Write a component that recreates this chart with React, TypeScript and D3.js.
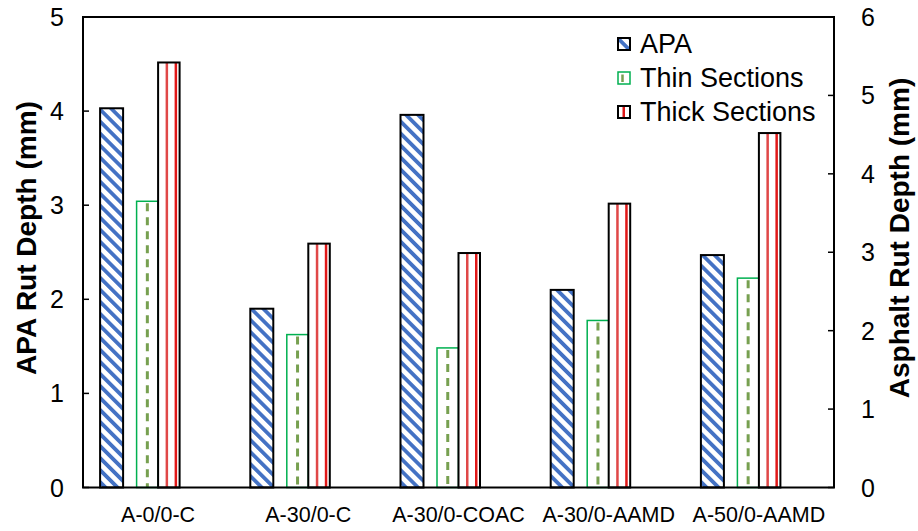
import React from "react";
import * as d3 from "d3";

const categories = ["A-0/0-C", "A-30/0-C", "A-30/0-COAC", "A-30/0-AAMD", "A-50/0-AAMD"];
const apaValues = [4.03, 1.9, 3.96, 2.1, 2.47];
const thinValues = [3.65, 1.95, 1.78, 2.13, 2.67];
const thickValues = [5.42, 3.11, 2.99, 3.62, 4.52];
const leftTicks = [0, 1, 2, 3, 4, 5];
const rightTicks = [0, 1, 2, 3, 4, 5, 6];
const legendItems = ["APA", "Thin Sections", "Thick Sections"];

const W = 918;
const H = 531;
const L = 83;
const R = 834;
const T = 17;
const B = 487.5;
const FONT = "'Liberation Sans', Arial, sans-serif";

export default function App() {
  const x = d3.scaleBand<string>().domain(categories).range([L, R]);
  const yL = d3.scaleLinear().domain([0, 5]).range([B, T]);
  const yR = d3.scaleLinear().domain([0, 6]).range([B, T]);
  const cx = (c: string) => (x(c) as number) + x.bandwidth() / 2;

  const apaW = 23;
  const secW = 21.5;

  const thickBar = (x0: number, y0: number, key: string) => {
    const h = B - y0;
    return (
      <g key={key}>
        <rect x={x0} y={y0} width={secW} height={h} fill="#fff" />
        <rect x={x0 + 7.5} y={y0} width={2.5} height={h} fill="#E04848" />
        <rect x={x0 + 16.5} y={y0} width={2.5} height={h} fill="#E01818" />
        <rect x={x0} y={y0} width={secW} height={h} fill="none" stroke="#000" strokeWidth={2} />
      </g>
    );
  };

  const thinBar = (x0: number, y0: number, key: string) => {
    const h = B - y0;
    return (
      <g key={key}>
        <rect x={x0} y={y0} width={secW} height={h} fill="#fff" />
        <line
          x1={x0 + secW / 2}
          x2={x0 + secW / 2}
          y1={y0 + 2}
          y2={B}
          stroke="#77A050"
          strokeWidth={3}
          strokeDasharray="8 6"
        />
        <rect x={x0} y={y0} width={secW} height={h} fill="none" stroke="#00B050" strokeWidth={1.5} />
      </g>
    );
  };

  const titleY = 238;

  return (
    <svg
      width={W}
      height={H}
      style={{ position: "absolute", left: 0, top: 0, background: "#fff" }}
      fontFamily={FONT}
    >
      <defs>
        <pattern
          id="apaPat"
          patternUnits="userSpaceOnUse"
          width={8.5}
          height={8.5}
          patternTransform="rotate(-45)"
        >
          <rect width={8.5} height={8.5} fill="#fff" />
          <rect x={0} y={0} width={3.8} height={8.5} fill="#4472C4" />
        </pattern>
      </defs>
      <rect x={0} y={0} width={W} height={H} fill="#fff" />

      {categories.map((c, i) => {
        const c0 = cx(c);
        return (
          <g key={c}>
            <rect
              x={c0 - 58}
              y={yL(apaValues[i])}
              width={apaW}
              height={B - yL(apaValues[i])}
              fill="url(#apaPat)"
              stroke="#000"
              strokeWidth={2}
            />
            {thinBar(c0 - secW, yR(thinValues[i]), "thin" + i)}
            {thickBar(c0, yR(thickValues[i]), "thick" + i)}
          </g>
        );
      })}

      {/* frame */}
      <rect x={L} y={T} width={R - L} height={B - T} fill="none" stroke="#000" strokeWidth={2} />

      {/* left axis */}
      {leftTicks.map((t) => (
        <g key={"l" + t}>
          <line x1={L} x2={L + 6} y1={yL(t)} y2={yL(t)} stroke="#000" strokeWidth={1.5} />
          <text x={64} y={yL(t)} textAnchor="end" dominantBaseline="central" fontSize={25}>
            {t}
          </text>
        </g>
      ))}
      {/* right axis */}
      {rightTicks.map((t) => (
        <g key={"r" + t}>
          <line x1={R - 6} x2={R} y1={yR(t)} y2={yR(t)} stroke="#000" strokeWidth={1.5} />
          <text x={861} y={yR(t)} textAnchor="start" dominantBaseline="central" fontSize={25}>
            {t}
          </text>
        </g>
      ))}

      {/* x labels */}
      {categories.map((c) => (
        <text key={"x" + c} x={cx(c)} y={522} textAnchor="middle" fontSize={21.5}>
          {c}
        </text>
      ))}

      {/* axis titles */}
      <text
        transform={`translate(26,${titleY}) rotate(-90)`}
        textAnchor="middle"
        dominantBaseline="central"
        fontSize={28}
        fontWeight="bold"
      >
        APA Rut Depth (mm)
      </text>
      <text
        transform={`translate(899,${titleY}) rotate(-90)`}
        textAnchor="middle"
        dominantBaseline="central"
        fontSize={28}
        fontWeight="bold"
      >
        Asphalt Rut Depth (mm)
      </text>

      {/* legend */}
      {legendItems.map((name, i) => {
        const yc = 44 + i * 34;
        return (
          <g key={name}>
            {i === 0 && (
              <rect x={618} y={yc - 6} width={12} height={12} fill="url(#apaPat)" stroke="#000" strokeWidth={2} />
            )}
            {i === 1 && (
              <g>
                <rect x={618} y={yc - 6} width={12} height={12} fill="#fff" stroke="#00B050" strokeWidth={1.5} />
                <line x1={622.5} x2={622.5} y1={yc - 3.5} y2={yc + 4} stroke="#77A050" strokeWidth={2.5} />
              </g>
            )}
            {i === 2 && (
              <g>
                <rect x={618} y={yc - 6} width={12} height={12} fill="#fff" />
                <rect x={622.5} y={yc - 6} width={2.5} height={12} fill="#E01818" />
                <rect x={618} y={yc - 6} width={12} height={12} fill="none" stroke="#000" strokeWidth={2} />
              </g>
            )}
            <text x={640} y={yc} dominantBaseline="central" fontSize={27}>
              {name}
            </text>
          </g>
        );
      })}
    </svg>
  );
}
